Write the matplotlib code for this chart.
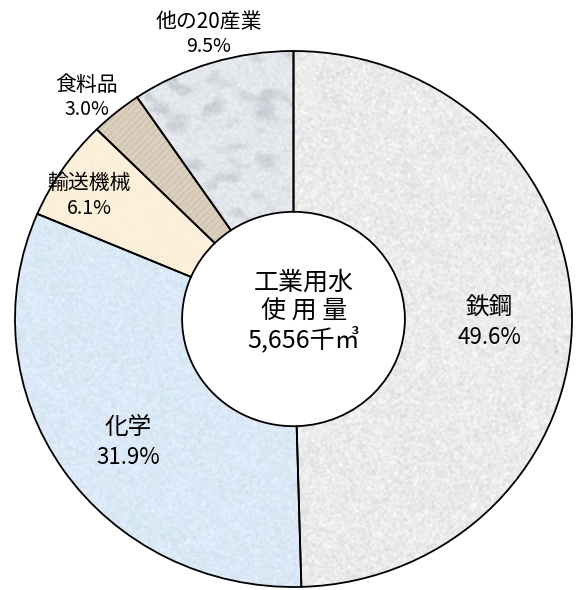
import numpy as np
import matplotlib.pyplot as plt

# 工業用水の業種別使用量構成
industries = ["鉄鋼", "化学", "輸送機械", "食料品", "他の20産業"]
shares = [49.6, 31.9, 6.1, 3.0, 9.5]
center_lines = ["工業用水", "使 用 量", "5,656千㎥"]

plt.rcParams['font.family'] = ['Noto Sans CJK JP', 'DejaVu Sans']

W, H = 579, 590
CX, CY = 293.5, 319       # 円の中心 (px, 上から)
RX, RY = 278.5, 268       # 横・縦の半径 (px)


def smooth(a, r, passes=1, axes=(0, 1)):
    out = a.copy()
    for _ in range(passes):
        for axis in axes:
            acc = np.zeros_like(out)
            for s in range(-r, r + 1):
                acc += np.roll(out, s, axis=axis)
            out = acc / (2 * r + 1)
    return out


def norm(a):
    a = a - a.mean()
    return a / (np.abs(a).max() + 1e-9)


rng = np.random.default_rng(7)
yy, xx = np.mgrid[0:H, 0:W]


def granite(base, amp, tint=None):
    n = norm(smooth(rng.standard_normal((H, W)), 1))
    img = np.ones((H, W, 3)) * np.array(base) / 255
    img += n[..., None] * amp / 255
    if tint is not None:
        blob = norm(smooth(rng.standard_normal((H, W)), 6, 2))
        img += blob[..., None] * np.array(tint) / 255
    return np.clip(img, 0, 1)


def marble(base, dark, amp):
    big = smooth(rng.standard_normal((H, W)), 4, 2)
    big = norm(smooth(big, 6, 1, axes=(1,)))
    streak = np.clip((big - 0.05) * 2.2, 0, 1)
    fine = norm(smooth(rng.standard_normal((H, W)), 1))
    img = np.ones((H, W, 3)) * np.array(base) / 255
    img = img * (1 - streak[..., None] * 0.45) + streak[..., None] * 0.45 * np.array(dark) / 255
    img += fine[..., None] * amp / 255
    return np.clip(img, 0, 1)


def stripes(base, amp, period=7):
    wave = np.sin((xx + yy) * 2 * np.pi / period)
    grain = norm(smooth(rng.standard_normal((H, W)), 1))
    img = np.ones((H, W, 3)) * np.array(base) / 255
    img += (wave * 0.5 + grain * 0.5)[..., None] * amp / 255
    return np.clip(img, 0, 1)


textures = [
    granite((235, 235, 235), 24, tint=(6, 3, 0)),
    granite((219, 233, 247), 16, tint=(6, 0, 6)),
    granite((253, 240, 218), 5),
    stripes((216, 203, 186), 12),
    marble((228, 231, 235), (175, 180, 190), 16),
]

fig = plt.figure(figsize=(W / 100, H / 100), dpi=100)
ax = fig.add_axes([0, 0, 1, 1])

wedges, _ = ax.pie(shares, startangle=90, counterclock=False, radius=1,
                   wedgeprops=dict(width=0.6, edgecolor="black",
                                   linewidth=1.3, facecolor="none"))

xlim = (-CX / RX, (W - CX) / RX)
ylim = (-(H - CY) / RY, CY / RY)
for w, tex in zip(wedges, textures):
    w.set_zorder(2)
    im = ax.imshow(tex, extent=(*xlim, *ylim), origin="upper",
                   aspect="auto", zorder=1, interpolation="bilinear")
    im.set_clip_path(w)

ax.set_aspect("auto")
ax.set_xlim(*xlim)
ax.set_ylim(*ylim)
ax.axis("off")

# ラベル位置 (px)
label_pos = [(489, 307, 337, 17), (128, 427, 457, 17), (89, 183, 208, 15),
             (87, 85, 110, 15), (209, 22, 47, 15)]
for name, share, (x, y1, y2, fs) in zip(industries, shares, label_pos):
    fig.text(x / W, 1 - y1 / H, name, ha="center", va="center", fontsize=fs)
    fig.text(x / W, 1 - y2 / H, f"{share:.1f}%", ha="center", va="center",
             fontsize=fs - 1)

for i, line in enumerate(center_lines):
    fig.text(304 / W, 1 - (283 + 28.5 * i) / H, line, ha="center",
             va="center", fontsize=18)

fig.savefig("out.png", dpi=100)
